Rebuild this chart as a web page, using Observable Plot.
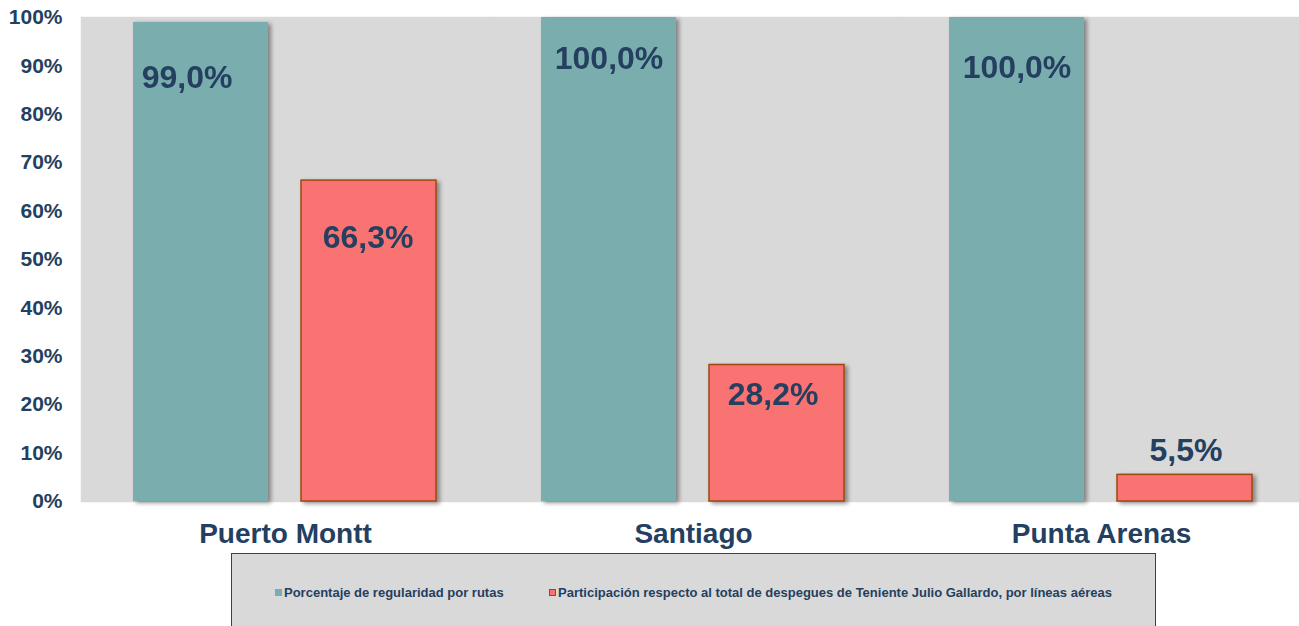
<!DOCTYPE html>
<html>
<head>
<meta charset="utf-8">
<script src="https://cdn.jsdelivr.net/npm/d3@7"></script>
<script src="https://cdn.jsdelivr.net/npm/@observablehq/plot@0.6"></script>
<style>
  body { margin: 0; background: #fff; font-family: "Liberation Sans", Arial, sans-serif; }
  #wrap { position: relative; width: 1299px; height: 626px; overflow: hidden; }
  #chart svg { max-width: none !important; }
  #legend { position: absolute; left: 231px; top: 553px; width: 925px; height: 80px;
    background: #D9D9D9; border: 1px solid #404040; box-sizing: border-box; }
  .item { position: absolute; top: 31px; font-size: 13px; font-weight: bold; color: #243F60; white-space: nowrap; line-height: 15px; }
  .sw { display: inline-block; width: 7px; height: 7px; margin-right: 2px; vertical-align: 1px; box-sizing: border-box; }
</style>
</head>
<body>
<div id="wrap">
  <div id="chart"></div>
  <div id="legend"></div>
</div>
<script>
const cities = ["Puerto Montt", "Santiago", "Punta Arenas"];
const seriesNames = ["Porcentaje de regularidad por rutas",
  "Participación respecto al total de despegues de Teniente Julio Gallardo, por líneas aéreas"];
const regularidad = [99.0, 100.0, 100.0];
const participacion = [66.3, 28.2, 5.5];
const yTicks = [0, 10, 20, 30, 40, 50, 60, 70, 80, 90, 100];

const colors = ["#7AADAD", "#FA7373"];
const textColor = "#243F60";

const data = [];
cities.forEach((c, i) => {
  data.push({city: c, series: seriesNames[0], value: regularidad[i], k: 0});
  data.push({city: c, series: seriesNames[1], value: participacion[i], k: 1});
});
const fmt = v => v.toFixed(1).replace(".", ",") + "%";

// label nudges (rendering only)
const nudgeY = {"0-0": 55, "0-1": 41, "0-2": 50, "1-0": 57, "1-1": 30, "1-2": -24};
const nudgeX = {"0-0": -14, "0-1": 0, "0-2": 0, "1-0": -1, "1-1": -4, "1-2": 1};

const labelMarks = data.map((d) => {
  const key = d.k + "-" + cities.indexOf(d.city);
  return Plot.text([d], {fx: "city", x: "series", y: "value", text: r => fmt(r.value),
    dy: nudgeY[key], dx: nudgeX[key], fontSize: 32, fontWeight: "bold", fill: textColor});
});

const chart = Plot.plot({
  width: 1305,
  height: 553,
  marginLeft: 81,
  marginRight: 0,
  marginTop: 17,
  marginBottom: 52,
  style: {fontFamily: "'Liberation Sans', Arial, sans-serif", fontWeight: "bold", color: textColor, background: "transparent", overflow: "hidden", maxWidth: "none"},
  fx: {domain: cities, padding: 0, label: null},
  x: {domain: seriesNames, paddingInner: 0.195, paddingOuter: 0.305, axis: null},
  y: {domain: [0, 100], label: null},
  color: {domain: seriesNames, range: colors},
  marks: [
    Plot.frame({fill: "#D9D9D9", stroke: "#D9D9D9", strokeWidth: 1.5}),
    Plot.axisY({ticks: yTicks, tickFormat: d => d + "%", tickSize: 0, tickPadding: 19, fontSize: 21, fontWeight: "bold", label: null}),
    Plot.axisFx({anchor: "bottom", tickSize: 0, tickPadding: 22, fontSize: 28, fontWeight: "bold", label: null}),
    Plot.barY(data.filter(d => d.k === 0), {fx: "city", x: "series", y: "value", fill: "series"}),
    Plot.barY(data.filter(d => d.k === 1), {fx: "city", x: "series", y: "value", fill: "series", stroke: "#9E480E", strokeWidth: 1.5}),
    ...labelMarks
  ]
});
d3.select(chart).selectAll('g[aria-label="bar"]').style("filter", "drop-shadow(3px 2px 2px rgba(0,0,0,0.4))");
document.getElementById("chart").appendChild(chart);

const legend = document.getElementById("legend");
const lx = [43, 317];
seriesNames.forEach((s, i) => {
  const it = document.createElement("div");
  it.className = "item";
  it.style.left = lx[i] + "px";
  const sw = document.createElement("span");
  sw.className = "sw";
  sw.style.background = colors[i];
  if (i === 1) sw.style.border = "1px solid #9E480E";
  it.appendChild(sw);
  it.appendChild(document.createTextNode(s));
  legend.appendChild(it);
});
</script>
</body>
</html>
